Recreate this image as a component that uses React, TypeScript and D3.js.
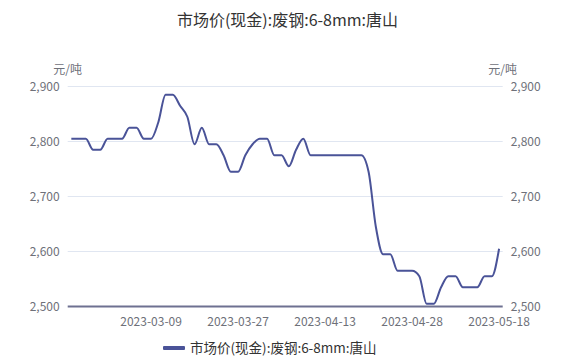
import * as d3 from "d3";
import * as React from "react";

const seriesName = "市场价(现金):废钢:6-8mm:唐山";
const unitLabel = "元/吨";

const dates = [
  "2023-02-22", "2023-02-23", "2023-02-24", "2023-02-27", "2023-02-28",
  "2023-03-01", "2023-03-02", "2023-03-03", "2023-03-06", "2023-03-07",
  "2023-03-08", "2023-03-09", "2023-03-10", "2023-03-13", "2023-03-14",
  "2023-03-15", "2023-03-16", "2023-03-17", "2023-03-20", "2023-03-21",
  "2023-03-22", "2023-03-23", "2023-03-24", "2023-03-27", "2023-03-28",
  "2023-03-29", "2023-03-30", "2023-03-31", "2023-04-03", "2023-04-04",
  "2023-04-06", "2023-04-07", "2023-04-10", "2023-04-11", "2023-04-12",
  "2023-04-13", "2023-04-14", "2023-04-17", "2023-04-18", "2023-04-19",
  "2023-04-20", "2023-04-21", "2023-04-23", "2023-04-24", "2023-04-25",
  "2023-04-26", "2023-04-27", "2023-04-28", "2023-05-04", "2023-05-05",
  "2023-05-06", "2023-05-08", "2023-05-09", "2023-05-10", "2023-05-11",
  "2023-05-12", "2023-05-15", "2023-05-16", "2023-05-17", "2023-05-18",
];

const prices = [
  2805, 2805, 2805, 2785, 2785, 2805, 2805, 2805, 2825, 2825,
  2805, 2805, 2835, 2885, 2885, 2865, 2845, 2795, 2825, 2795,
  2795, 2775, 2745, 2745, 2775, 2795, 2805, 2805, 2775, 2775,
  2755, 2785, 2805, 2775, 2775, 2775, 2775, 2775, 2775, 2775,
  2775, 2745, 2645, 2595, 2595, 2565, 2565, 2565, 2555, 2505,
  2505, 2535, 2555, 2555, 2535, 2535, 2535, 2555, 2555, 2605,
];

const tickLabels = ["2023-03-09", "2023-03-27", "2023-04-13", "2023-04-28", "2023-05-18"];
const yTicks = [2500, 2600, 2700, 2800, 2900];

export default function App() {
  const width = 575;
  const height = 364;
  const marginLeft = 67.7;
  const marginRight = 72.3;
  const marginTop = 86.5;
  const marginBottom = 57.5;

  const svgRef = React.useRef<SVGSVGElement>(null);

  React.useEffect(() => {
    const svgElement = svgRef.current;
    if (svgElement == null) return;
    const svg = d3.select(svgElement);
    svg.selectAll("*").remove();

    const font = "'Noto Sans CJK SC', 'Noto Sans', sans-serif";
    const labelColor = "#6E7079";

    const x = d3
      .scalePoint<string>()
      .domain(dates)
      .range([marginLeft, width - marginRight])
      .padding(0.5);
    const y = d3.scaleLinear([2500, 2900], [height - marginBottom, marginTop]);

    // title
    svg
      .append("text")
      .attr("x", width / 2)
      .attr("y", 26)
      .attr("text-anchor", "middle")
      .attr("font-family", font)
      .attr("font-size", 16)
      .attr("fill", "#333")
      .text(seriesName);

    // grid lines
    svg
      .append("g")
      .selectAll("line")
      .data(yTicks.filter((t) => t !== 2500))
      .join("line")
      .attr("x1", marginLeft)
      .attr("x2", width - marginRight)
      .attr("y1", (d) => y(d))
      .attr("y2", (d) => y(d))
      .attr("stroke", "#E0E6F1");

    // y labels, both sides
    const fmt = d3.format(",");
    const yLab = svg.append("g").attr("font-family", font).attr("font-size", 12).attr("fill", labelColor);
    yLab
      .selectAll("text.l")
      .data(yTicks)
      .join("text")
      .attr("class", "l")
      .attr("x", marginLeft - 8)
      .attr("y", (d) => y(d))
      .attr("dy", "0.35em")
      .attr("text-anchor", "end")
      .text((d) => fmt(d));
    yLab
      .selectAll("text.r")
      .data(yTicks)
      .join("text")
      .attr("class", "r")
      .attr("x", width - marginRight + 8)
      .attr("y", (d) => y(d))
      .attr("dy", "0.35em")
      .attr("text-anchor", "start")
      .text((d) => fmt(d));

    // unit names
    [marginLeft, width - marginRight].forEach((ax) => {
      yLab
        .append("text")
        .attr("x", ax)
        .attr("y", marginTop - 13)
        .attr("text-anchor", "middle")
        .text(unitLabel);
    });

    // x axis line
    svg
      .append("line")
      .attr("x1", marginLeft)
      .attr("x2", width - marginRight)
      .attr("y1", y(2500))
      .attr("y2", y(2500))
      .attr("stroke", "#6E7191")
      .attr("stroke-width", 2);

    // x labels
    svg
      .append("g")
      .attr("font-family", font)
      .attr("font-size", 12)
      .attr("fill", labelColor)
      .selectAll("text")
      .data(tickLabels)
      .join("text")
      .attr("x", (d) => x(d) ?? 0)
      .attr("y", y(2500) + 19)
      .attr("text-anchor", "middle")
      .text((d) => d);

    const line = d3
      .line<number>()
      .x((_, i) => x(dates[i]) ?? 0)
      .y((d) => y(d))
      .curve(d3.curveMonotoneX);

    svg
      .append("path")
      .attr("fill", "none")
      .attr("stroke", "#4A5398")
      .attr("stroke-width", 2)
      .attr("d", line(prices));

    // legend
    const lg = svg.append("g").attr("transform", `translate(163, 348)`);
    lg.append("rect").attr("x", 0).attr("y", -2).attr("width", 22).attr("height", 4).attr("rx", 1).attr("fill", "#4A5398");
    lg.append("text")
      .attr("x", 27)
      .attr("y", 0)
      .attr("dy", "0.35em")
      .attr("font-family", font)
      .attr("font-size", 13.5)
      .attr("fill", "#333")
      .text(seriesName);
  }, []);

  return (
    <svg
      ref={svgRef}
      width={width}
      height={height}
      viewBox={`0 0 ${width} ${height}`}
      style={{ position: "absolute", left: 0, top: 0, background: "#fff" }}
    ></svg>
  );
}
